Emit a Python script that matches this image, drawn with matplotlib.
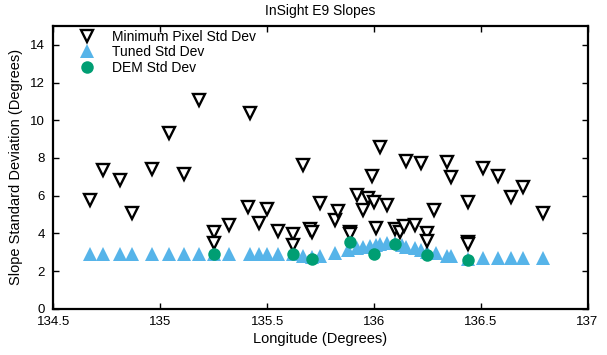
import matplotlib
matplotlib.use("Agg")
import matplotlib.pyplot as plt

plt.rcParams['font.family'] = ['Liberation Sans', 'DejaVu Sans']

title = "InSight E9 Slopes"
xlabel = "Longitude (Degrees)"
ylabel = "Slope Standard Deviation (Degrees)"

min_x = [134.67, 134.73, 134.81, 134.87, 134.96, 135.04, 135.11, 135.18,
         135.25, 135.25, 135.32, 135.42, 135.41, 135.46, 135.50, 135.55,
         135.62, 135.62, 135.67, 135.70, 135.71, 135.75, 135.82, 135.83,
         135.89, 135.89, 135.92, 135.95, 135.97, 135.99, 136.00, 136.03,
         136.01, 136.06, 136.10, 136.12, 136.14, 136.15, 136.19, 136.22,
         136.25, 136.25, 136.28, 136.34, 136.36, 136.44, 136.44, 136.44,
         136.51, 136.58, 136.64, 136.70, 136.79]
min_y = [5.75, 7.37, 6.84, 5.09, 7.42, 9.33, 7.16, 11.08,
         4.08, 3.50, 4.45, 10.40, 5.41, 4.56, 5.30, 4.14,
         3.98, 3.39, 7.64, 4.22, 4.10, 5.62, 4.72, 5.20,
         4.10, 3.95, 6.04, 5.25, 5.88, 7.05, 5.67, 8.60,
         4.29, 5.51, 4.24, 4.08, 4.40, 7.85, 4.45, 7.74,
         4.03, 3.60, 5.25, 7.80, 7.00, 5.67, 3.55, 3.45,
         7.48, 7.05, 5.94, 6.47, 5.09]

tuned_x = [134.67, 134.73, 134.81, 134.87, 134.96, 135.04, 135.11, 135.18,
           135.25, 135.32, 135.42, 135.46, 135.50, 135.55, 135.62, 135.67,
           135.71, 135.75, 135.82, 135.88, 135.92, 135.95, 135.98, 136.01,
           136.03, 136.06, 136.10, 136.13, 136.15, 136.19, 136.22, 136.25,
           136.29, 136.34, 136.36, 136.44, 136.51, 136.58, 136.64, 136.70,
           136.79]
tuned_y = [2.92, 2.92, 2.92, 2.92, 2.92, 2.92, 2.92, 2.92,
           2.92, 2.92, 2.92, 2.92, 2.92, 2.92, 2.92, 2.78,
           2.75, 2.78, 2.95, 3.10, 3.20, 3.30, 3.35, 3.40,
           3.45, 3.50, 3.50, 3.40, 3.30, 3.20, 3.10, 3.00,
           2.95, 2.80, 2.80, 2.65, 2.70, 2.70, 2.70, 2.70,
           2.70]

dem_x = [135.25, 135.62, 135.71, 135.89, 136.00, 136.10, 136.25, 136.44]
dem_y = [2.92, 2.92, 2.65, 3.55, 2.92, 3.45, 2.86, 2.60]

fig = plt.figure(figsize=(6.07, 3.55), dpi=100)
ax = fig.add_axes([0.088, 0.13, 0.880, 0.797])

ax.plot(min_x, min_y, linestyle='none', marker='v', markersize=8.5,
        markerfacecolor='white', markeredgecolor='black', markeredgewidth=1.7,
        label='Minimum Pixel Std Dev', zorder=3)
ax.plot(tuned_x, tuned_y, linestyle='none', marker='^', markersize=9.5,
        color='#56B4E9', markeredgewidth=0, label='Tuned Std Dev', zorder=2)
ax.plot(dem_x, dem_y, linestyle='none', marker='o', markersize=9,
        color='#009E73', markeredgewidth=0, label='DEM Std Dev', zorder=4)

ax.set_xlim(134.5, 137)
ax.set_ylim(0, 15)
ax.set_xticks([134.5, 135, 135.5, 136, 136.5, 137])
ax.set_xticklabels(['134.5', '135', '135.5', '136', '136.5', '137'])
ax.set_yticks([0, 2, 4, 6, 8, 10, 12, 14])
ax.tick_params(direction='in', top=True, right=True, length=4, width=1,
               labelsize=9.5)
ax.tick_params(axis='x', pad=5)
ax.tick_params(axis='y', pad=6)
for s in ax.spines.values():
    s.set_linewidth(1.6)

ax.set_title(title, fontsize=10, pad=8)
ax.set_xlabel(xlabel, fontsize=10.5, labelpad=3)
ax.set_ylabel(ylabel, fontsize=10.5, labelpad=5)

ax.legend(loc='upper left', bbox_to_anchor=(0.037, 0.986), frameon=False,
          fontsize=10, handletextpad=0.8, labelspacing=0.1,
          borderaxespad=0, handlelength=2.0, borderpad=0)

fig.savefig('out.png', dpi=100)
